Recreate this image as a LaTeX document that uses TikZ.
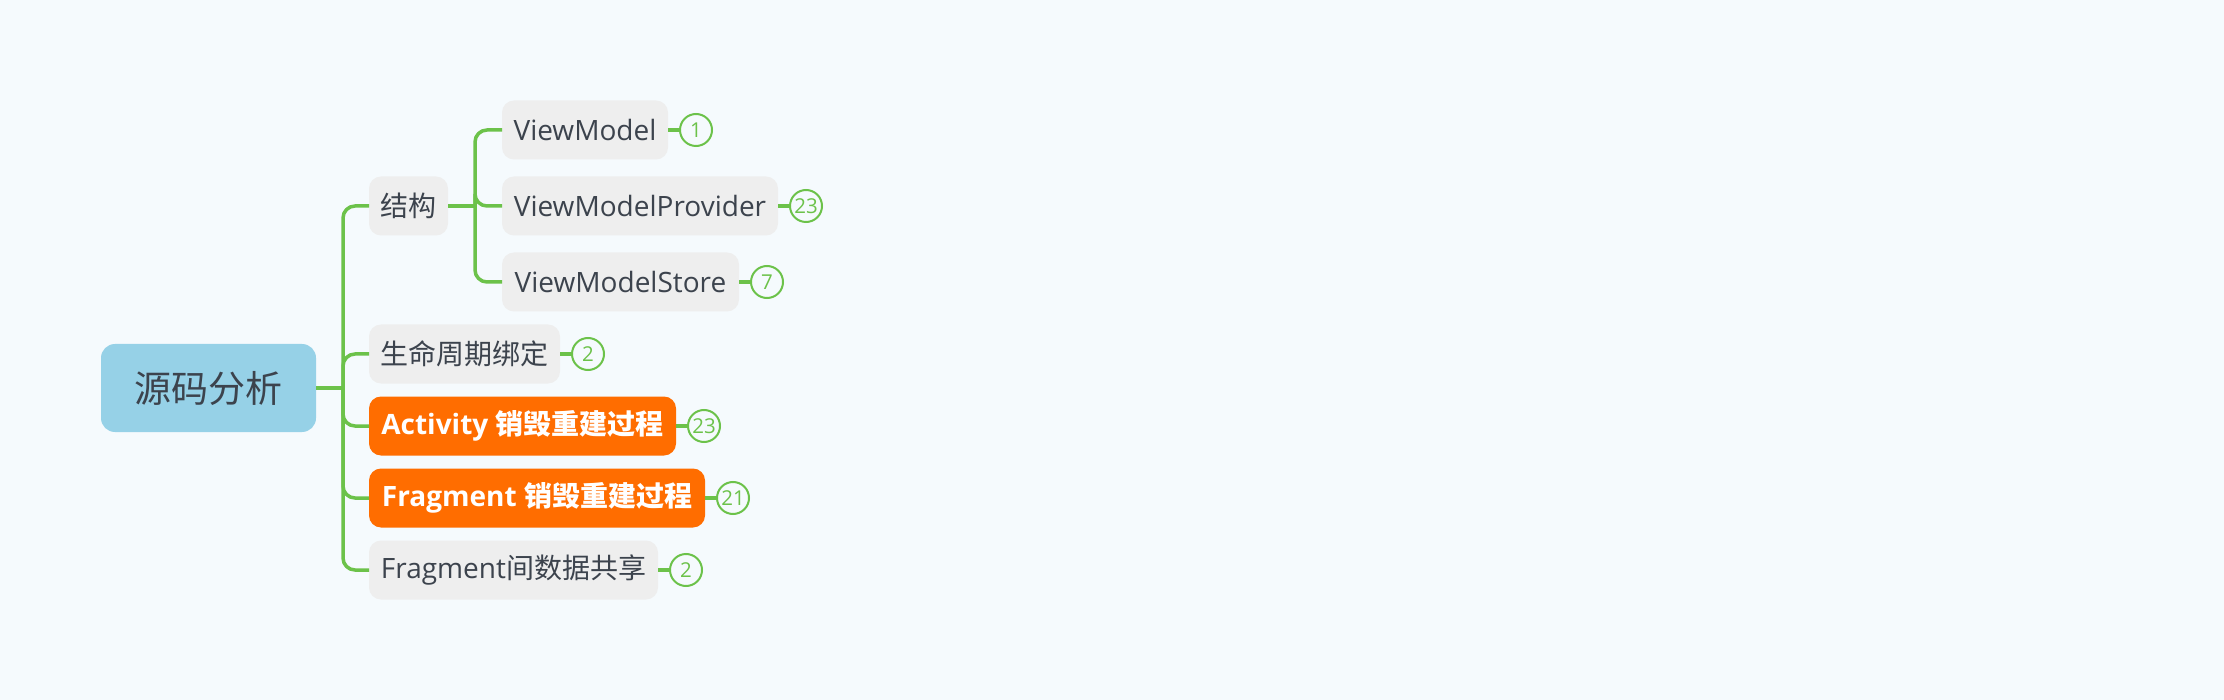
\documentclass[tikz,border=0pt]{standalone}
\usepackage{fontspec}
\setmainfont{Open Sans}
\newfontfamily\cjk{Noto Sans CJK SC}
\usetikzlibrary{positioning}
\definecolor{bg}{HTML}{F5FAFD}
\definecolor{rootfill}{HTML}{96D1E7}
\definecolor{boxfill}{HTML}{EEEEEE}
\definecolor{hotfill}{HTML}{FF6D00}
\definecolor{linegreen}{HTML}{6CC24A}
\definecolor{txt}{HTML}{3C434D}
\begin{document}
\begin{tikzpicture}[x=1pt,y=-1pt,
  rootbox/.style={fill=rootfill, rounded corners=14pt, minimum height=88pt, inner sep=0pt, outer sep=0pt, anchor=west, text=txt, font=\fontsize{37}{44}\selectfont},
  topic/.style={fill=boxfill, rounded corners=12pt, minimum height=59pt, inner sep=0pt, outer sep=0pt, anchor=west, text=txt, font=\fontsize{28}{34}\selectfont},
  hot/.style={topic, fill=hotfill, text=white, font=\fontsize{28}{34}\selectfont\bfseries},
  count/.style={circle, draw=linegreen, line width=2pt, fill=bg, minimum size=32pt, inner sep=0pt, outer sep=0pt, text=linegreen, font=\fontsize{20.5}{24}\selectfont},
  branch/.style={draw=linegreen, line width=3.5pt},
]
\fill[bg] (0,0) rectangle (2224,700);
\useasboundingbox (0,0) rectangle (2224,700);

\node[rootbox, minimum width=215] (root) at (101,388) {\cjk 源码分析};

\node[topic, minimum width=79] (jg) at (369,206) {\cjk 结构};
\node[topic, minimum width=166] (vm) at (502,130) {ViewModel};
\node[topic, minimum width=276] (vmp) at (502,206) {ViewModelProvider};
\node[topic, minimum width=237] (vms) at (502,282) {ViewModelStore};
\node[topic, minimum width=191] (life) at (369,354) {\cjk 生命周期绑定};
\node[hot, minimum width=307] (act) at (369,426) {Activity {\cjk\bfseries 销毁重建过程}};
\node[hot, minimum width=336] (frag) at (369,498) {Fragment {\cjk\bfseries 销毁重建过程}};
\node[topic, minimum width=289] (fsh) at (369,570) {Fragment{\cjk 间数据共享}};

\node[count, right=12pt of vm] (n1) {1};
\node[count, right=12pt of vmp] (n2) {23};
\node[count, right=12pt of vms] (n3) {7};
\node[count, right=12pt of life] (n4) {2};
\node[count, right=12pt of act] (n5) {23};
\node[count, right=12pt of frag] (n6) {21};
\node[count, right=12pt of fsh] (n7) {2};

\coordinate (t) at (343,388);
\draw[branch] (root.east) -- (t);
\foreach \c in {jg,life,act,frag,fsh}
  \draw[branch, rounded corners=12pt] (t) |- (\c.west);

\coordinate (s) at (475,206);
\draw[branch] (jg.east) -- (s);
\foreach \c in {vm,vmp,vms}
  \draw[branch, rounded corners=12pt] (s) |- (\c.west);

\draw[branch] (vm.east) -- (n1.west);
\draw[branch] (vmp.east) -- (n2.west);
\draw[branch] (vms.east) -- (n3.west);
\draw[branch] (life.east) -- (n4.west);
\draw[branch] (act.east) -- (n5.west);
\draw[branch] (frag.east) -- (n6.west);
\draw[branch] (fsh.east) -- (n7.west);
\end{tikzpicture}
\end{document}
